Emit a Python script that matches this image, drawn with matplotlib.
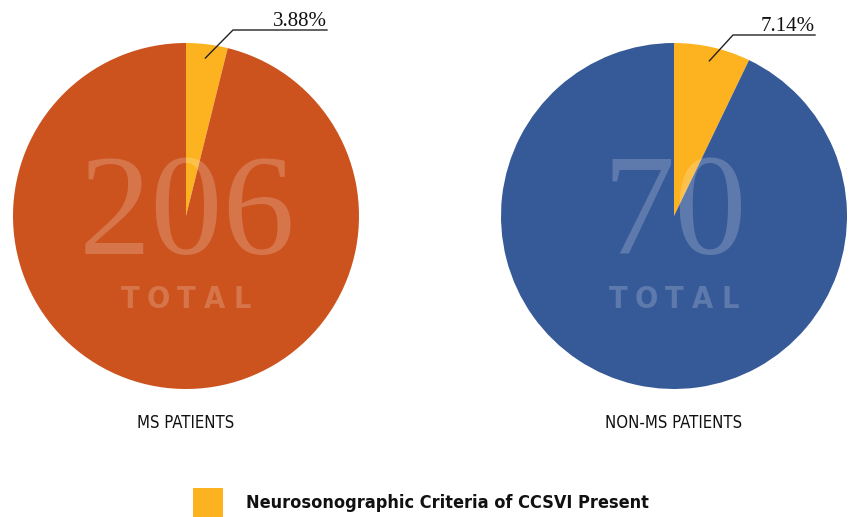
import numpy as np
import matplotlib.pyplot as plt
from matplotlib.patches import Rectangle

# Data
groups = ['MS PATIENTS', 'NON-MS PATIENTS']
totals = [206, 70]
present_pct = [3.88, 7.14]
base_colors = ['#CC521E', '#365998']
present_color = '#FDB21F'
legend_label = 'Neurosonographic Criteria of CCSVI Present'

W, H = 850, 517
fig = plt.figure(figsize=(8.5, 5.17), dpi=100, facecolor='white')
ax = fig.add_axes([0, 0, 1, 1])

narrow = ['DejaVu Sans']
serif = ['Liberation Serif', 'DejaVu Serif']

centers = [(186, H - 216), (674, H - 216)]
radius = 173
elbows = [(233, H - 30), (733, H - 35)]
label_ends = [327, 815]

for i in range(2):
    cx, cy = centers[i]
    p = present_pct[i]
    ax.pie([p, 100 - p], colors=[present_color, base_colors[i]],
           startangle=90, counterclock=False, center=(cx, cy), radius=radius,
           wedgeprops=dict(linewidth=0))

    # big total number and TOTAL word, light overlay
    ax.text(cx + 1, cy - 38, str(totals[i]), ha='center', va='baseline',
            fontsize=104, family=serif, color='white', alpha=0.2)
    for k, ch in enumerate('TOTAL'):
        ax.text(cx + (k - 2) * 28, cy - 92, ch, ha='center', va='baseline',
                fontsize=22, family=narrow, fontweight='bold',
                fontstretch='condensed', color='white', alpha=0.2)

    # leader line to percentage label
    mid = np.deg2rad(90 - p * 3.6 / 2)
    px = cx + 0.92 * radius * np.cos(mid)
    py = cy + 0.92 * radius * np.sin(mid)
    ex, ey = elbows[i]
    ax.plot([px, ex, label_ends[i]], [py, ey, ey], color='#222222', lw=1)
    ax.text(label_ends[i], ey + 4, f'{p:.2f}%', ha='right', va='baseline',
            fontsize=15, family=serif, color='#111111')

    ax.text(cx, H - 428, groups[i], ha='center', va='baseline',
            fontsize=12, family=narrow, fontstretch='condensed', color='#111111')

# legend
ax.add_patch(Rectangle((193, H - 518), 30, 30, color=present_color, lw=0))
ax.text(246, H - 503, legend_label, ha='left', va='center',
        fontsize=13, family=narrow, fontweight='bold', fontstretch='condensed',
        color='#111111')

ax.set_xlim(0, W)
ax.set_ylim(0, H)
ax.set_aspect('equal')
ax.axis('off')

fig.savefig('out.png', dpi=100, facecolor='white')
